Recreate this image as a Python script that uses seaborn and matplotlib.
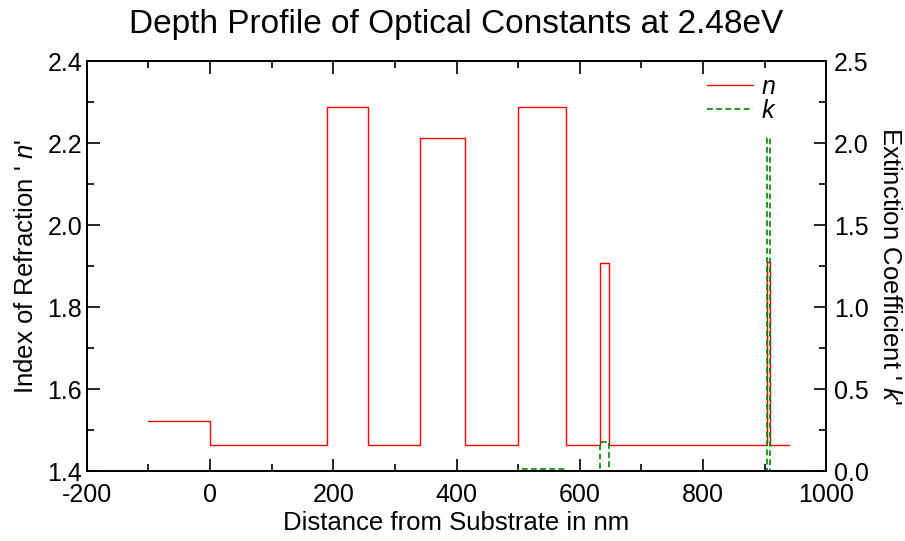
import matplotlib
matplotlib.use("Agg")
import matplotlib.pyplot as plt
from matplotlib.ticker import MultipleLocator, FormatStrFormatter
import seaborn as sns
import pandas as pd

# step profile (steps-post: value holds until next x)
n_x = [-100, 0, 189, 257, 341, 413, 499, 577, 632, 647, 904, 908, 940]
n_val = [1.522, 1.465, 2.288, 1.465, 2.212, 1.465, 2.288, 1.465, 1.908, 1.465, 1.910, 1.465, 1.465]

k_x = [-100, 341, 413, 499, 577, 632, 647, 904, 909, 940]
k_val = [0.0, 0.004, 0.0, 0.014, 0.0, 0.18, 0.0, 2.03, 0.0, 0.0]

sns.set_style("ticks")
plt.rcParams['font.family'] = ['Liberation Sans', 'DejaVu Sans']
plt.rcParams['mathtext.fontset'] = 'custom'
plt.rcParams['mathtext.rm'] = 'Liberation Sans'
plt.rcParams['mathtext.it'] = 'Liberation Sans:italic'
plt.rcParams['axes.unicode_minus'] = False
plt.rcParams['text.color'] = 'black'
plt.rcParams['axes.labelcolor'] = 'black'
plt.rcParams['xtick.color'] = 'black'
plt.rcParams['ytick.color'] = 'black'

df_n = pd.DataFrame({'x': n_x, 'n': n_val})
df_k = pd.DataFrame({'x': k_x, 'k': k_val})

fig = plt.figure(figsize=(9.05, 5.41), dpi=100)
ax = fig.add_axes([0.096, 0.129, 0.817, 0.758])
ax2 = ax.twinx()

sns.lineplot(data=df_n, x='x', y='n', ax=ax, color='#ff0000', lw=1,
             drawstyle='steps-post', legend=False)
sns.lineplot(data=df_k, x='x', y='k', ax=ax2, color='#008800', lw=1.2,
             drawstyle='steps-post', legend=False)
ax2.lines[0].set_dashes((3.5, 2))

ax.set_xlim(-200, 1000)
ax.set_ylim(1.4, 2.4)
ax2.set_ylim(0, 2.5)

ax.xaxis.set_major_locator(MultipleLocator(200))
ax.xaxis.set_minor_locator(MultipleLocator(100))
ax.yaxis.set_major_locator(MultipleLocator(0.2))
ax.yaxis.set_minor_locator(MultipleLocator(0.1))
ax2.yaxis.set_major_locator(MultipleLocator(0.5))
ax2.yaxis.set_minor_locator(MultipleLocator(0.25))
ax.yaxis.set_major_formatter(FormatStrFormatter('%.1f'))
ax2.yaxis.set_major_formatter(FormatStrFormatter('%.1f'))

ax.tick_params(axis='x', which='both', direction='in', top=True, labelsize=18, pad=8.5)
ax.tick_params(axis='y', which='both', direction='in', right=False, labelsize=18, pad=3.5)
ax2.tick_params(axis='y', which='both', direction='in', labelsize=18, pad=5.5)
for a in (ax, ax2):
    a.tick_params(which='major', length=9, width=1.2)
    a.tick_params(which='minor', length=5, width=1.2)
    for s in a.spines.values():
        s.set_visible(True)
        s.set_linewidth(1.3)
        s.set_color('black')

ax.set_xlabel('Distance from Substrate in nm', fontsize=18.5, labelpad=3)
ax.set_ylabel("Index of Refraction ' $\\it{n}$'", fontsize=18.5, labelpad=7)
ax2.set_ylabel("Extinction Coefficient ' $\\it{k}$'", fontsize=18.5, rotation=270, labelpad=24)
ax.set_title('Depth Profile of Optical Constants at 2.48eV', fontsize=24, pad=20)

handles = ax.get_lines() + ax2.get_lines()
ax2.legend(handles, ['$\\it{n}$', '$\\it{k}$'], loc='upper right', frameon=False,
           fontsize=18, handlelength=1.85, handletextpad=0.3, labelspacing=0.0,
           borderaxespad=0.0, bbox_to_anchor=(0.946, 0.99))

fig.savefig('out.png', dpi=100)
